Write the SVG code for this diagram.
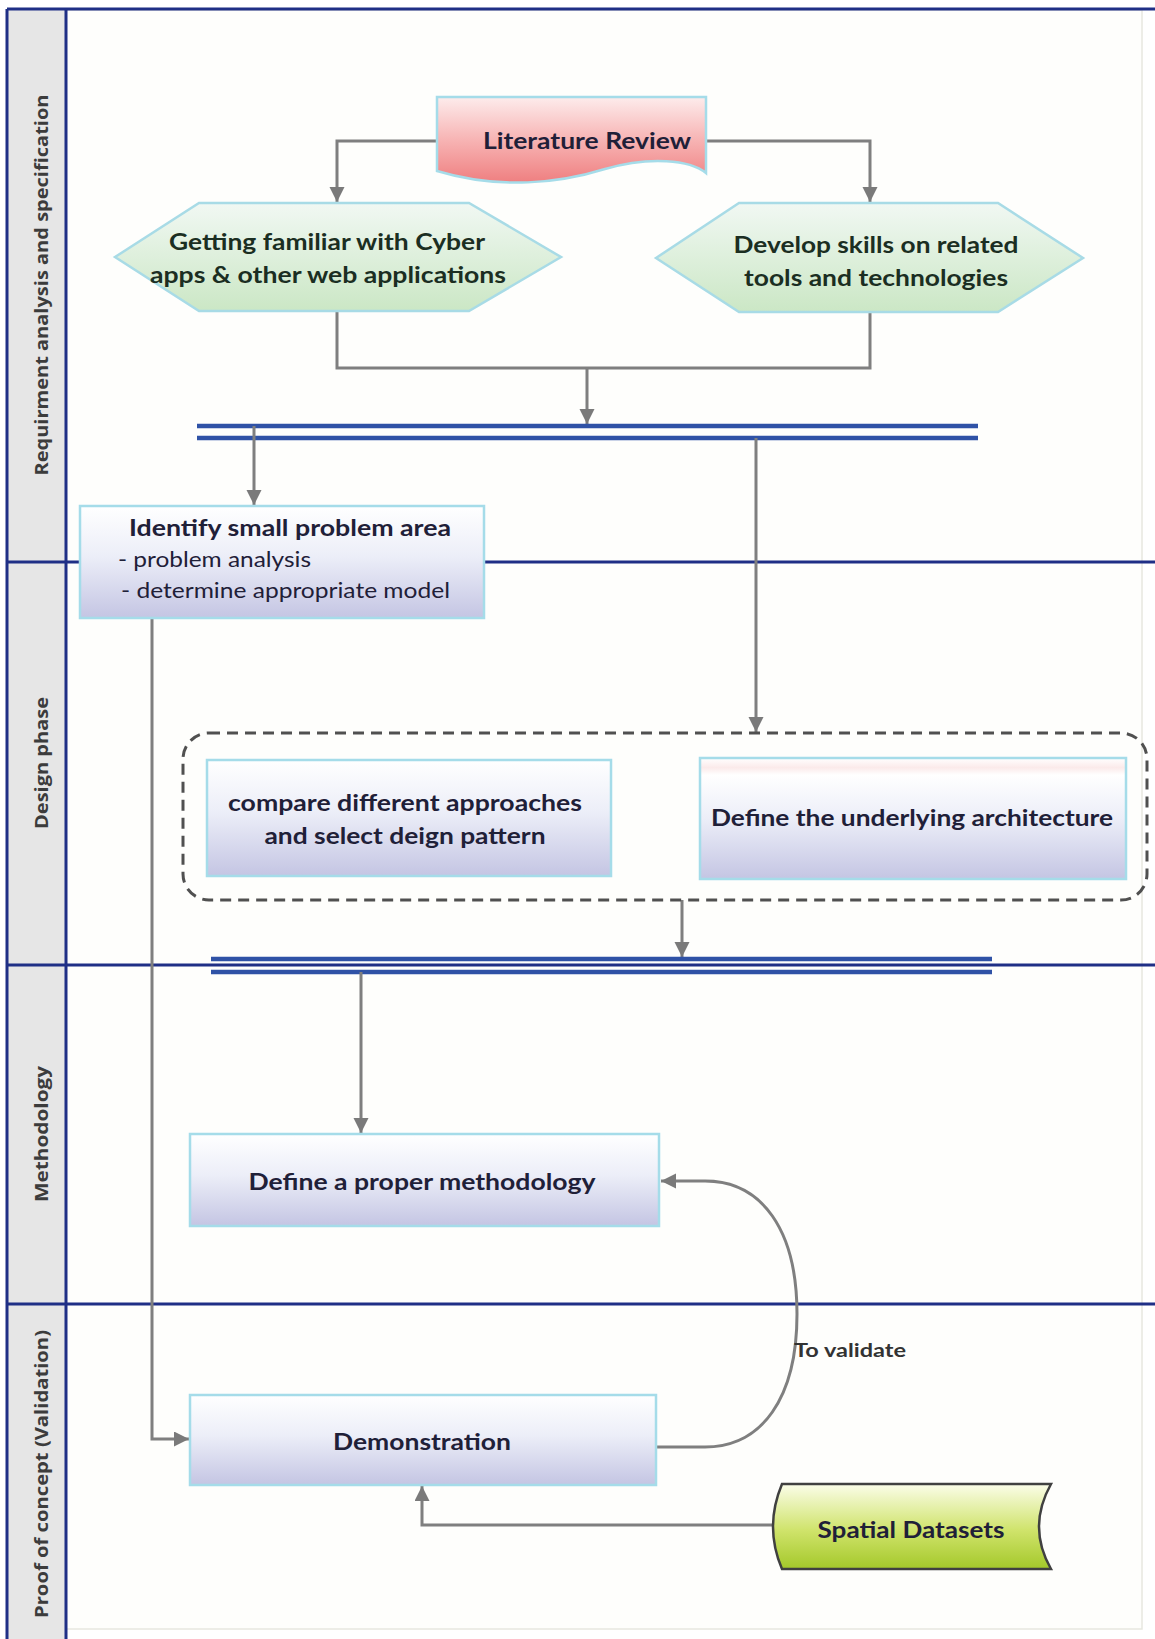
<svg xmlns="http://www.w3.org/2000/svg" width="1155" height="1639" viewBox="0 0 1155 1639">
<defs>
<linearGradient id="boxGrad" x1="0" y1="0" x2="0" y2="1">
<stop offset="0" stop-color="#ffffff"/><stop offset="0.45" stop-color="#eceef8"/><stop offset="1" stop-color="#c4c5e3"/>
</linearGradient>
<linearGradient id="archGrad" x1="0" y1="0" x2="0" y2="1">
<stop offset="0" stop-color="#ffffff"/><stop offset="0.08" stop-color="#fbeaea"/><stop offset="0.14" stop-color="#ffffff"/><stop offset="0.5" stop-color="#eceef8"/><stop offset="1" stop-color="#c4c5e3"/>
</linearGradient>
<linearGradient id="hexGrad" x1="0" y1="0" x2="0" y2="1">
<stop offset="0" stop-color="#f1f8f3"/><stop offset="1" stop-color="#cbe7c5"/>
</linearGradient>
<linearGradient id="litGrad" x1="0" y1="0" x2="0" y2="1">
<stop offset="0" stop-color="#fdecec"/><stop offset="0.5" stop-color="#f7b4b4"/><stop offset="1" stop-color="#ef7f80"/>
</linearGradient>
<linearGradient id="spGrad" x1="0" y1="0" x2="0" y2="1">
<stop offset="0" stop-color="#fbfde9"/><stop offset="0.55" stop-color="#cfe36a"/><stop offset="1" stop-color="#a4c82a"/>
</linearGradient>
<marker id="arr" markerUnits="userSpaceOnUse" markerWidth="17" markerHeight="16" refX="15" refY="7.5" orient="auto">
<path d="M0,0 L15,7.5 L0,15 z" fill="#7a7a7a"/>
</marker>
<style>
.lane{stroke:#1f2f86;stroke-width:3;fill:none}
.hdr{fill:#e6e6e6}
.lbl{font-family:"Open Sans","DejaVu Sans",sans-serif;font-weight:700;font-size:17px;fill:#3c3c3c;text-anchor:middle}
.box{fill:url(#boxGrad);stroke:#a5dce9;stroke-width:2.5}
.hex{fill:url(#hexGrad);stroke:#a8dbe6;stroke-width:2.5}
.t{font-family:Lato,"Liberation Sans",sans-serif;font-weight:700;font-size:23px;fill:#1f2038;text-anchor:middle}
.tr{font-family:Lato,"Liberation Sans",sans-serif;font-weight:400;font-size:22px;fill:#1f2038}
.th{fill:#1b2e22}
.c{stroke:#7f7f7f;stroke-width:3;fill:none}
.bar{stroke:#2f52a6;stroke-width:4.5;fill:none}
</style>
</defs>
<rect width="1155" height="1639" fill="#ffffff"/>
<path d="M66,10 H1142 V1629 H66" fill="#fefefc" stroke="#e8e8e0" stroke-width="1.5"/>

<g id="lanes">
<rect class="hdr" x="7" y="9" width="59" height="1630"/>
<line class="lane" x1="7" y1="9" x2="1155" y2="9"/>
<line class="lane" x1="7" y1="9" x2="7" y2="1639"/>
<line class="lane" x1="66" y1="9" x2="66" y2="1639"/>
<line class="lane" x1="7" y1="562" x2="1155" y2="562"/>
<line class="lane" x1="7" y1="965" x2="1155" y2="965"/>
<line class="lane" x1="7" y1="1304" x2="1155" y2="1304"/>
<text class="lbl" transform="translate(48,285) rotate(-90)" textLength="381" lengthAdjust="spacingAndGlyphs">Requirment analysis and specification</text>
<text class="lbl" transform="translate(48,763) rotate(-90)" textLength="132" lengthAdjust="spacingAndGlyphs">Design phase</text>
<text class="lbl" transform="translate(48,1134) rotate(-90)" textLength="136" lengthAdjust="spacingAndGlyphs">Methodology</text>
<text class="lbl" transform="translate(48,1474) rotate(-90)" textLength="288" lengthAdjust="spacingAndGlyphs">Proof of concept (Validation)</text>
</g>

<g id="connectors">
<polyline class="c" points="437,141 337,141 337,202" marker-end="url(#arr)"/>
<polyline class="c" points="706,141 870,141 870,202" marker-end="url(#arr)"/>
<polyline class="c" points="337,312 337,368 870,368 870,312"/>
<line class="c" x1="587" y1="368" x2="587" y2="424" marker-end="url(#arr)"/>
<line class="bar" x1="197" y1="426" x2="978" y2="426"/>
<line class="bar" x1="197" y1="438" x2="978" y2="438"/>
<line class="c" x1="254" y1="426" x2="254" y2="505" marker-end="url(#arr)"/>
<line class="c" x1="756" y1="438" x2="756" y2="732" marker-end="url(#arr)"/>
<polyline class="c" points="152,618 152,1439 189,1439" marker-end="url(#arr)"/>
<line class="c" x1="682" y1="900" x2="682" y2="957" marker-end="url(#arr)"/>
<line class="bar" x1="211" y1="959" x2="992" y2="959"/>
<line class="bar" x1="211" y1="972" x2="992" y2="972"/>
<line class="c" x1="361" y1="972" x2="361" y2="1133" marker-end="url(#arr)"/>
<path class="c" d="M656,1447 L705,1447 C762,1447 797,1398 797,1314 C797,1230 762,1181 705,1181 L661,1181" marker-end="url(#arr)"/>
<polyline class="c" points="773,1525 422,1525 422,1486" marker-end="url(#arr)"/>
<text x="794" y="1357" font-family="Lato,'Liberation Sans',sans-serif" font-weight="700" font-size="19" fill="#333333" textLength="112" lengthAdjust="spacingAndGlyphs">To validate</text>
</g>

<g id="literature">
<path d="M437,97 H706 V173 C690,160 650,156 605,169 C560,183 500,190 437,171 Z" fill="url(#litGrad)" stroke="#a5dce9" stroke-width="2.5"/>
<text class="t" x="587" y="149" font-size="22" fill="#2a1c1c" textLength="208" lengthAdjust="spacingAndGlyphs">Literature Review</text>
</g>

<g id="familiar">
<polygon class="hex" points="115,257 199,203 469,203 561,257 469,311 199,311"/>
<text class="t th" x="327" y="250" textLength="316" lengthAdjust="spacingAndGlyphs">Getting familiar with Cyber</text>
<text class="t th" x="328" y="283" textLength="356" lengthAdjust="spacingAndGlyphs">apps &amp; other web applications</text>
</g>

<g id="skills">
<polygon class="hex" points="656,258 739,203 998,203 1083,258 998,312 739,312"/>
<text class="t th" x="876" y="253" textLength="285" lengthAdjust="spacingAndGlyphs">Develop skills on related</text>
<text class="t th" x="876" y="286" textLength="264" lengthAdjust="spacingAndGlyphs">tools and technologies</text>
</g>

<g id="identify">
<rect class="box" x="80" y="506" width="404" height="112"/>
<text class="t" x="290" y="536" textLength="322" lengthAdjust="spacingAndGlyphs">Identify small problem area</text>
<text class="tr" x="118" y="567" textLength="193" lengthAdjust="spacingAndGlyphs">- problem analysis</text>
<text class="tr" x="121" y="598" textLength="329" lengthAdjust="spacingAndGlyphs">- determine appropriate model</text>
</g>

<g id="design-group">
<rect x="183" y="733" width="964" height="167" rx="26" ry="26" fill="none" stroke="#505050" stroke-width="3" stroke-dasharray="11 7"/>
</g>

<g id="compare">
<rect class="box" x="207" y="760" width="404" height="116"/>
<text class="t" x="405" y="811" textLength="354" lengthAdjust="spacingAndGlyphs">compare different approaches</text>
<text class="t" x="405" y="844" textLength="281" lengthAdjust="spacingAndGlyphs">and select deign pattern</text>
</g>

<g id="architecture">
<rect x="700" y="758" width="426" height="121" fill="url(#archGrad)" stroke="#a5dce9" stroke-width="2.5"/>
<text class="t" x="912" y="826" textLength="402" lengthAdjust="spacingAndGlyphs">Define the underlying architecture</text>
</g>

<g id="methodology">
<rect class="box" x="190" y="1134" width="469" height="92"/>
<text class="t" x="422" y="1190" font-size="24" textLength="347" lengthAdjust="spacingAndGlyphs">Define a proper methodology</text>
</g>

<g id="demonstration">
<rect class="box" x="190" y="1395" width="466" height="90"/>
<text class="t" x="422" y="1450" textLength="178" lengthAdjust="spacingAndGlyphs">Demonstration</text>
</g>

<g id="spatial">
<path d="M782,1484 H1051 Q1027,1527 1051,1569 H782 Q764,1527 782,1484 Z" fill="url(#spGrad)" stroke="#404040" stroke-width="2.5"/>
<text class="t" x="911" y="1538" fill="#1f3312" textLength="187" lengthAdjust="spacingAndGlyphs">Spatial Datasets</text>
</g>
</svg>
